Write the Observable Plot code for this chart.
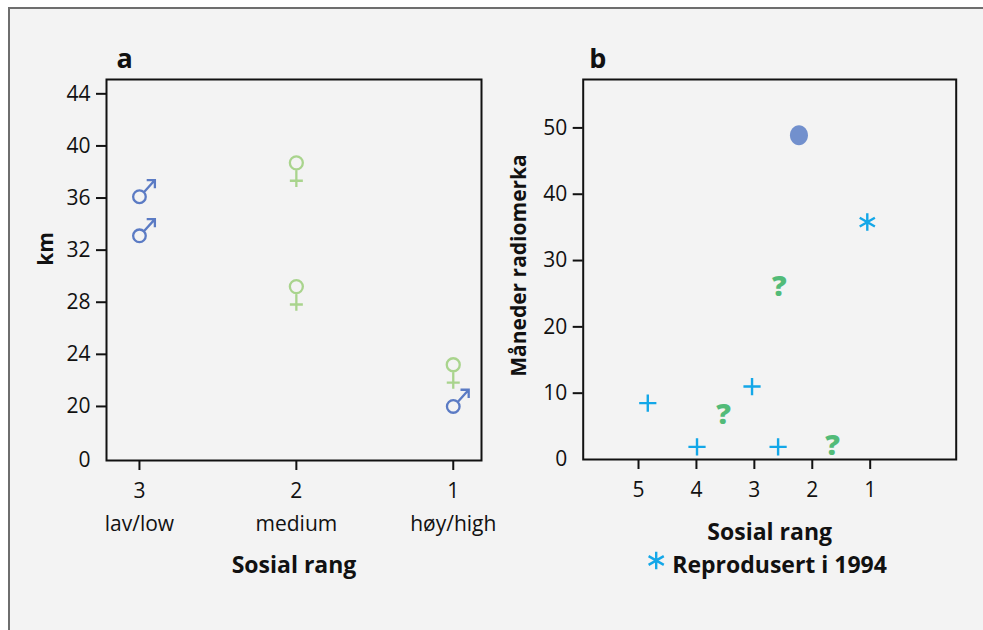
<!DOCTYPE html>
<html>
<head>
<meta charset="utf-8">
<script src="https://cdn.jsdelivr.net/npm/d3@7"></script>
<script src="https://cdn.jsdelivr.net/npm/@observablehq/plot@0.6"></script>
<style>
  html, body { margin: 0; padding: 0; background: #fff; }
  #fig { position: relative; width: 983px; height: 630px; overflow: hidden; background: #fff; }
  #sheet { position: absolute; left: 8px; top: 7px; width: 1100px; height: 700px;
           border-left: 2px solid #6e6e6e; border-top: 2px solid #6e6e6e; background: #f3f3f3; }
  #a, #b { position: absolute; top: 0; }
  #a { left: 0; }
  #b { left: 490px; }
</style>
</head>
<body>
<div id="fig">
  <div id="sheet"></div>
  <div id="a"></div>
  <div id="b"></div>
</div>
<script>
// ---- Panel a: distance (km) by social rank, males and females ----
const rankA = [3, 2, 1];
const rankLabelsA = ["lav/low", "medium", "høy/high"];
const maleRank = [3, 3, 1];
const maleKm = [36.1, 33.1, 20.0];
const femaleRank = [2, 2, 1];
const femaleKm = [38.7, 29.2, 23.2];
const kmTicks = [20, 24, 28, 32, 36, 40, 44];
// the km axis is broken below 20: its foot carries the label "0"
const kmAxisFoot = 15.85;
const kmFootLabel = "0";

// ---- Panel b: months radio-tagged by social rank ----
const rankB = [5, 4, 3, 2, 1];
const plusRank = [4.84, 3.99, 3.04, 2.59];
const plusMonths = [8.5, 1.9, 11.0, 1.9];
const unknownRank = [3.53, 2.57, 1.65];
const unknownMonths = [6.8, 26.1, 2.1];
const dotRank = [2.23];
const dotMonths = [48.9];
const reproRank = [1.05];
const reproMonths = [35.8];
const monthTicks = [10, 20, 30, 40, 50];
const legendText = ["Reprodusert i 1994"];

const BLUE = "#5b7bc4";
const LIGHTGREEN = "#a9d48d";
const CYAN = "#13a7e8";
const GREEN = "#52bb78";
const SLATE = "#7290cd";
const INK = "#111";
const FONT = "'Open Sans', 'Noto Sans', sans-serif";

// Custom symbols: male (♂), female (♀) and a slightly tall ellipse
const maleSymbol = {
  draw(ctx, size) {
    const r = Math.sqrt(size / Math.PI);
    ctx.moveTo(r, 0);
    ctx.arc(0, 0, r, 0, 2 * Math.PI);
    const s = r * Math.SQRT1_2;
    const tx = 2.45 * r, ty = -2.65 * r;
    ctx.moveTo(s, -s);
    ctx.lineTo(tx, ty);
    ctx.moveTo(tx - 1.3 * r, ty);
    ctx.lineTo(tx, ty);
    ctx.lineTo(tx, ty + 1.3 * r);
  }
};
const femaleSymbol = {
  draw(ctx, size) {
    const r = Math.sqrt(size / Math.PI);
    ctx.moveTo(r, 0);
    ctx.arc(0, 0, r, 0, 2 * Math.PI);
    ctx.moveTo(0, r);
    ctx.lineTo(0, 3.7 * r);
    ctx.moveTo(-r, 2.75 * r);
    ctx.lineTo(r, 2.75 * r);
  }
};
const ellipseSymbol = {
  draw(ctx, size) {
    const ry = Math.sqrt(size / Math.PI), rx = ry * 0.9, k = 0.5523;
    ctx.moveTo(rx, 0);
    ctx.bezierCurveTo(rx, ry * k, rx * k, ry, 0, ry);
    ctx.bezierCurveTo(-rx * k, ry, -rx, ry * k, -rx, 0);
    ctx.bezierCurveTo(-rx, -ry * k, -rx * k, -ry, 0, -ry);
    ctx.bezierCurveTo(rx * k, -ry, rx, -ry * k, rx, 0);
    ctx.closePath();
  }
};

const rows = (xs, ys) => xs.map((x, i) => ({rank: x, value: ys[i]}));
const baseStyle = {background: "transparent", fontFamily: FONT, fontSize: "21px", color: INK, overflow: "visible"};

// Panel a
const panelA = Plot.plot({
  width: 490, height: 630,
  marginTop: 79, marginBottom: 170, marginLeft: 106, marginRight: 9,
  style: baseStyle,
  x: {domain: [3.21, 0.82]},
  y: {domain: [kmAxisFoot, 45.1]},
  marks: [
    Plot.frame({stroke: INK, strokeWidth: 2}),
    Plot.axisY(kmTicks, {tickSize: 10, tickPadding: 6, strokeWidth: 2, label: null, fontSize: 21}),
    Plot.axisY([kmAxisFoot], {tickSize: 0, tickPadding: 16, tickFormat: () => kmFootLabel, label: null, fontSize: 21}),
    Plot.axisX(rankA, {tickSize: 10, tickPadding: 13, strokeWidth: 2, tickFormat: "d", label: null, fontSize: 21}),
    Plot.text(rankA, {x: d => d, text: (d, i) => rankLabelsA[i], frameAnchor: "bottom", lineAnchor: "bottom", dy: 70, fontSize: 21}),
    Plot.text(["Sosial rang"], {text: d => d, frameAnchor: "bottom", textAnchor: "middle", lineAnchor: "bottom", dy: 112, fontSize: 23, fontWeight: "bold"}),
    Plot.text(["km"], {text: d => d, frameAnchor: "left", textAnchor: "middle", rotate: -90, lineAnchor: "bottom", dx: -54, dy: -21, fontSize: 21, fontWeight: "bold"}),
    Plot.text(["a"], {text: d => d, frameAnchor: "top-left", textAnchor: "start", lineAnchor: "bottom", dx: 10, dy: -12, fontSize: 27, fontWeight: "bold"}),
    Plot.dot(rows(femaleRank, femaleKm), {x: "rank", y: "value", symbol: femaleSymbol, r: 6.5, stroke: LIGHTGREEN, strokeWidth: 2.3, fill: "none"}),
    Plot.dot(rows(maleRank, maleKm), {x: "rank", y: "value", symbol: maleSymbol, r: 6.3, stroke: BLUE, strokeWidth: 2.3, fill: "none"})
  ]
});
document.getElementById("a").append(panelA);

// Panel b
const panelB = Plot.plot({
  width: 493, height: 630,
  marginTop: 79, marginBottom: 171, marginLeft: 92.7, marginRight: 27.3,
  style: baseStyle,
  x: {domain: [5.955, -0.485]},
  y: {domain: [0, 57.3]},
  marks: [
    Plot.frame({stroke: INK, strokeWidth: 2}),
    Plot.axisY(monthTicks, {tickSize: 10, tickPadding: 6, strokeWidth: 2, label: null, fontSize: 21}),
    Plot.axisY([0], {tickSize: 0, tickPadding: 16, label: null, fontSize: 21}),
    Plot.axisX(rankB, {tickSize: 10, tickPadding: 13, strokeWidth: 2, tickFormat: "d", label: null, fontSize: 21}),
    Plot.text(["Sosial rang"], {text: d => d, frameAnchor: "bottom", textAnchor: "middle", lineAnchor: "bottom", dy: 80, fontSize: 23, fontWeight: "bold"}),
    Plot.text(["Måneder radiomerka"], {text: d => d, frameAnchor: "left", textAnchor: "middle", rotate: -90, lineAnchor: "bottom", dx: -57, dy: -4, fontSize: 21, fontWeight: "bold"}),
    Plot.text(["b"], {text: d => d, frameAnchor: "top-left", textAnchor: "start", lineAnchor: "bottom", dx: 6, dy: -12, fontSize: 27, fontWeight: "bold"}),
    Plot.dot(rows(plusRank, plusMonths), {x: "rank", y: "value", symbol: "plus", r: 5.6, stroke: CYAN, strokeWidth: 2.4}),
    Plot.text(rows(unknownRank, unknownMonths), {x: "rank", y: "value", text: () => "?", fill: GREEN, fontSize: 29, fontWeight: 800}),
    Plot.dot(rows(dotRank, dotMonths), {x: "rank", y: "value", symbol: ellipseSymbol, r: 10, fill: SLATE, stroke: "none"}),
    Plot.dot(rows(reproRank, reproMonths), {x: "rank", y: "value", symbol: "asterisk", r: 8.3, stroke: CYAN, strokeWidth: 2.4}),
    // legend
    Plot.dot(legendText, {frameAnchor: "bottom", symbol: "asterisk", r: 8.3, stroke: CYAN, strokeWidth: 2.4, dx: -113.5, dy: 101}),
    Plot.text(legendText, {text: d => d, frameAnchor: "bottom", textAnchor: "start", lineAnchor: "bottom", dx: -97.5, dy: 113.5, fontSize: 23, fontWeight: "bold"})
  ]
});
document.getElementById("b").append(panelB);
</script>
</body>
</html>
